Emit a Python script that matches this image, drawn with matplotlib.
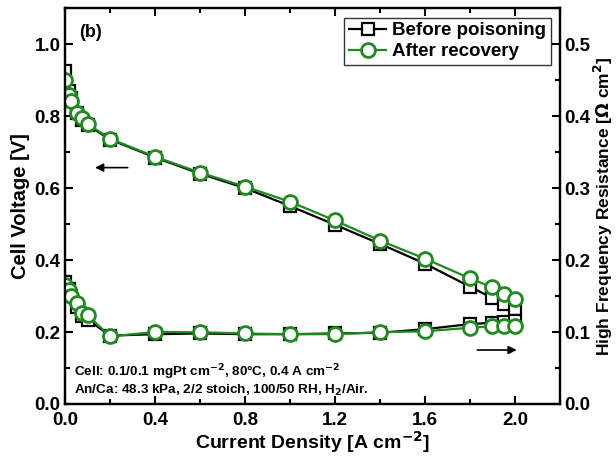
import numpy as np
import matplotlib.pyplot as plt
from matplotlib.ticker import MultipleLocator

plt.rcParams['font.family'] = ['Liberation Sans', 'DejaVu Sans']
plt.rcParams['font.weight'] = 'bold'
plt.rcParams['mathtext.default'] = 'bf'

# Densidade de corrente [A cm-2]
corrente = [0.0, 0.015, 0.025, 0.05, 0.075, 0.1, 0.2, 0.4, 0.6, 0.8,
            1.0, 1.2, 1.4, 1.6, 1.8, 1.9, 1.95, 2.0]

# Tensao da celula [V]
tensao_antes = [0.925, 0.87, 0.85, 0.81, 0.79, 0.775, 0.735, 0.685, 0.640, 0.600,
                0.550, 0.498, 0.445, 0.390, 0.326, 0.294, 0.278, 0.263]
tensao_depois = [0.900, 0.860, 0.842, 0.809, 0.795, 0.778, 0.737, 0.687, 0.643, 0.604,
                 0.562, 0.510, 0.454, 0.404, 0.349, 0.324, 0.307, 0.293]

# HFR [Ohm cm2]
hfr_antes = [0.170, 0.160, 0.150, 0.135, 0.122, 0.117, 0.095, 0.097, 0.098, 0.097,
             0.097, 0.098, 0.099, 0.104, 0.111, 0.113, 0.114, 0.115]
hfr_depois = [0.165, 0.158, 0.150, 0.140, 0.126, 0.123, 0.094, 0.100, 0.0997, 0.098,
              0.097, 0.097, 0.0997, 0.101, 0.106, 0.108, 0.109, 0.109]

verde = '#1f8a1f'

fig = plt.figure(figsize=(6.16, 4.57), dpi=100)
ax = fig.add_axes([0.106, 0.116, 0.803, 0.866])
ax2 = ax.twinx()

ax.plot(corrente, tensao_antes, 's-', color='black', mfc='white', mec='black',
        ms=8.5, mew=1.6, lw=1.6, label='Before poisoning')
ax.plot(corrente, tensao_depois, 'o-', color=verde, mfc='white', mec=verde,
        ms=10, mew=2, lw=1.6, label='After recovery')
ax2.plot(corrente, hfr_antes, 's-', color='black', mfc='white', mec='black',
         ms=8.5, mew=1.6, lw=1.6)
ax2.plot(corrente, hfr_depois, 'o-', color=verde, mfc='white', mec=verde,
         ms=10, mew=2, lw=1.6)

ax.set_xlim(0, 2.2)
ax.set_ylim(0, 1.1)
ax2.set_ylim(0, 0.55)

ax.xaxis.set_major_locator(MultipleLocator(0.4))
ax.xaxis.set_minor_locator(MultipleLocator(0.2))
ax.yaxis.set_major_locator(MultipleLocator(0.2))
ax.yaxis.set_minor_locator(MultipleLocator(0.1))
ax2.yaxis.set_major_locator(MultipleLocator(0.1))
ax2.yaxis.set_minor_locator(MultipleLocator(0.05))

ax.tick_params(axis='both', which='both', direction='in', top=True, labelsize=13.5, width=1.5)
ax.tick_params(which='major', length=6)
ax.tick_params(which='minor', length=3.5)
ax.tick_params(axis='x', pad=6)
ax2.tick_params(which='both', direction='in', labelsize=13.5, width=1.5, pad=3)
ax2.tick_params(which='major', length=6)
ax2.tick_params(which='minor', length=3.5)
for a in (ax, ax2):
    for s in a.spines.values():
        s.set_linewidth(1.6)

ax.set_xlabel('Current Density [A cm$^{-2}$]', fontsize=14, fontweight='bold', labelpad=0)
ax.set_ylabel('Cell Voltage [V]', fontsize=14.5, fontweight='bold', labelpad=3)
ax2.set_ylabel('High Frequency Resistance [$\\Omega$ cm$^{2}$]', fontsize=12.5,
               fontweight='bold', labelpad=1)

ax.text(0.06, 1.02, '(b)', fontsize=13, fontweight='bold')
ax.annotate('', xy=(0.12, 0.657), xytext=(0.29, 0.657),
            arrowprops=dict(arrowstyle='-|>', color='black', lw=1.2, mutation_scale=12))
ax.annotate('', xy=(2.02, 0.15), xytext=(1.82, 0.15),
            arrowprops=dict(arrowstyle='-|>', color='black', lw=1.2, mutation_scale=12))
ax.text(0.04, 0.088, 'Cell: 0.1/0.1 mgPt cm$^{-2}$, 80\u00b0C, 0.4 A cm$^{-2}$',
        fontsize=9.7, fontweight='bold', va='center')
ax.text(0.04, 0.038, 'An/Ca: 48.3 kPa, 2/2 stoich, 100/50 RH, H$_{2}$/Air.',
        fontsize=9.7, fontweight='bold', va='center')

leg = ax.legend(loc='upper right', fontsize=13.5, frameon=True, fancybox=False,
                edgecolor='black', borderpad=0.25, handlelength=2.0, handletextpad=0.3,
                labelspacing=0.2, borderaxespad=0.5)
leg.get_frame().set_linewidth(1.0)

plt.savefig('out.png', dpi=100)
